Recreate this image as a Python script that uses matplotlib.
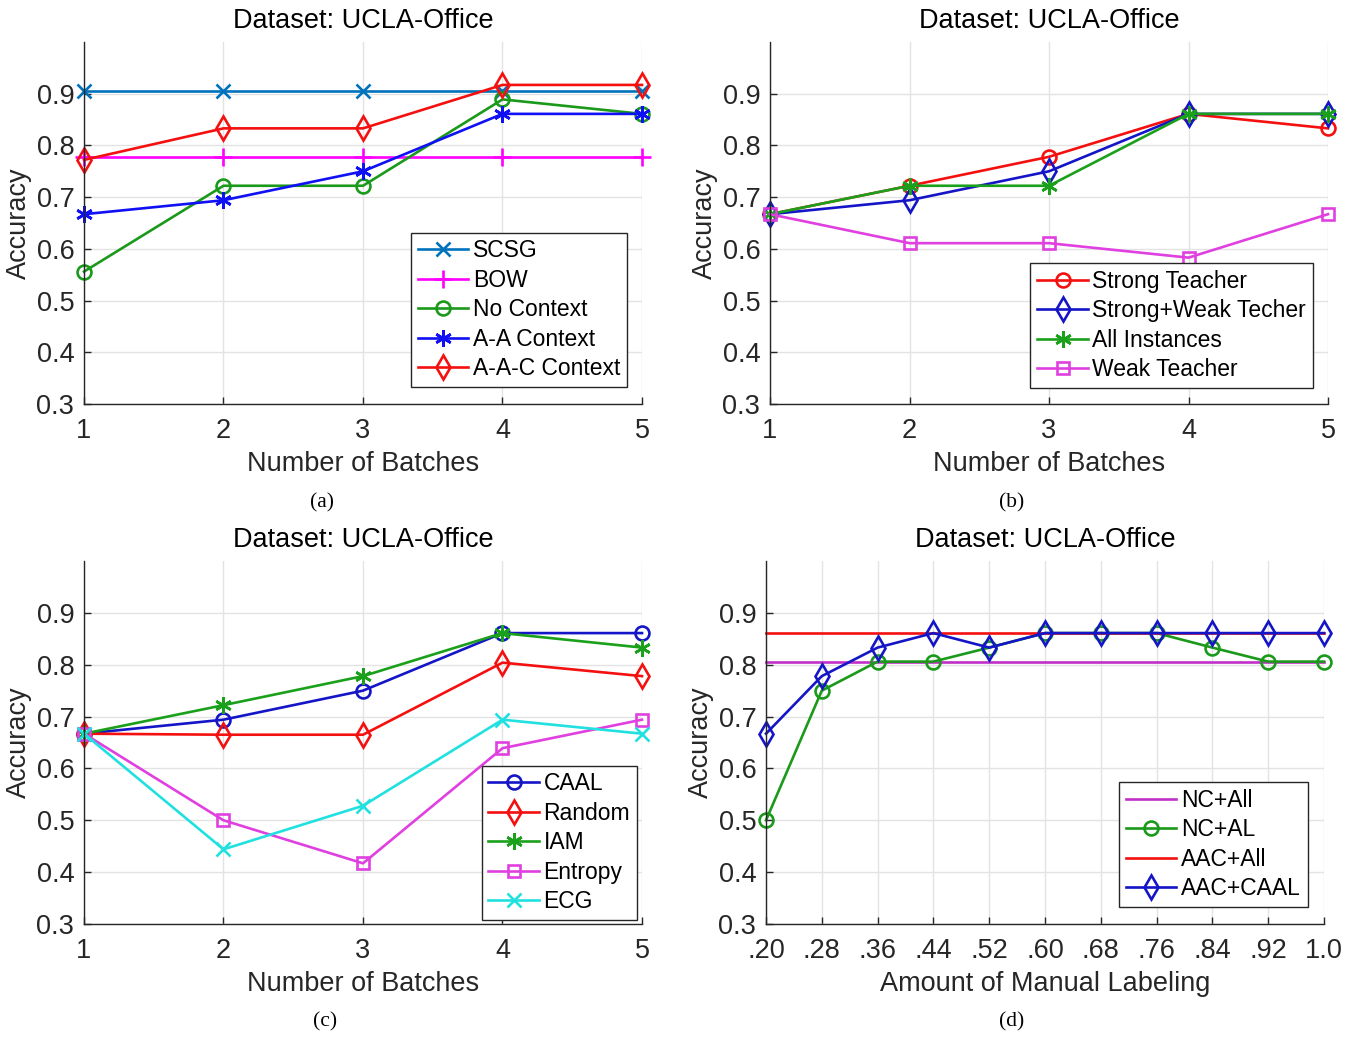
import matplotlib.pyplot as plt
from matplotlib.ticker import FixedLocator

plt.rcParams['font.family'] = ['Liberation Sans', 'DejaVu Sans']

# ---- data ----
batches = [1, 2, 3, 4, 5]

# (a)
scsg = [0.906, 0.906, 0.906, 0.906, 0.906]
bow = [0.778, 0.778, 0.778, 0.778, 0.778]
no_context = [0.556, 0.722, 0.722, 0.889, 0.861]
aa_context = [0.667, 0.694, 0.750, 0.861, 0.861]
aac_context = [0.772, 0.833, 0.833, 0.917, 0.917]

# (b)
strong_teacher = [0.667, 0.722, 0.778, 0.861, 0.833]
strong_weak = [0.667, 0.694, 0.750, 0.861, 0.861]
all_instances = [0.667, 0.722, 0.722, 0.861, 0.861]
weak_teacher = [0.667, 0.611, 0.611, 0.583, 0.667]

# (c)
caal = [0.667, 0.694, 0.750, 0.861, 0.861]
random_sel = [0.667, 0.665, 0.665, 0.804, 0.778]
iam = [0.667, 0.722, 0.778, 0.861, 0.833]
entropy = [0.667, 0.500, 0.417, 0.639, 0.694]
ecg = [0.667, 0.444, 0.528, 0.694, 0.667]

# (d)
manual = [0.20, 0.28, 0.36, 0.44, 0.52, 0.60, 0.68, 0.76, 0.84, 0.92, 1.00]
manual_labels = ['.20', '.28', '.36', '.44', '.52', '.60', '.68', '.76', '.84', '.92', '1.0']
nc_all = [0.806] * 11
nc_al = [0.500, 0.750, 0.806, 0.806, 0.833, 0.861, 0.861, 0.861, 0.833, 0.806, 0.806]
aac_all = [0.861] * 11
aac_caal = [0.667, 0.778, 0.833, 0.861, 0.833, 0.861, 0.861, 0.861, 0.861, 0.861, 0.861]

yticks = [0.3, 0.4, 0.5, 0.6, 0.7, 0.8, 0.9]

# ---- style ----
GRAY = '#262626'
FS = 19.5
LW = 1.9
MS = 10
AST = (6, 2, 0)

W, H = 1357, 1038
fig = plt.figure(figsize=(W / 100, H / 100), dpi=100)


def make_axes(left, top, width, height):
    ax = fig.add_axes([left / W, (H - top - height) / H, width / W, height / H])
    ax.set_ylim(0.3, 1.0)
    ax.set_yticks(yticks)
    ax.set_yticklabels(['%.1f' % v for v in yticks])
    ax.grid(True, color='#e3e3e3', linewidth=1.0)
    ax.set_axisbelow(True)
    for s in ['top', 'right']:
        ax.spines[s].set_visible(False)
    for s in ['left', 'bottom']:
        ax.spines[s].set_color(GRAY)
        ax.spines[s].set_linewidth(1.0)
    ax.tick_params(direction='in', length=5, width=1, colors=GRAY, labelsize=FS)
    ax.tick_params(axis='x', pad=10)
    ax.tick_params(axis='y', pad=7)
    ax.set_title('Dataset: UCLA-Office', fontsize=FS, color='black', pad=10)
    ax.set_ylabel('Accuracy', fontsize=FS, color=GRAY, labelpad=3)
    return ax


def add_legend(ax, x, y):
    leg = ax.legend(loc='lower right', bbox_to_anchor=(x, y), borderaxespad=0,
                    fontsize=16.5, fancybox=False, framealpha=1, edgecolor=GRAY,
                    handlelength=2.2, handletextpad=0.2, labelspacing=0.28,
                    borderpad=0.3)
    leg.get_frame().set_linewidth(1.0)
    return leg


def batch_axis(ax):
    ax.set_xlim(1, 5)
    ax.set_xticks(batches)
    ax.set_xlabel('Number of Batches', fontsize=FS, color=GRAY, labelpad=5)


def line(ax, x, y, **kw):
    ax.plot(x, y, lw=LW, mew=LW, clip_on=False, **kw)


# (a)
ax = make_axes(84, 42, 558, 362)
line(ax, batches, scsg, color='#0072BD', marker='x', ms=MS, label='SCSG')
line(ax, batches, bow, color='#FF00FF', marker='+', ms=MS + 3, label='BOW')
line(ax, batches, no_context, color='#1A991A', marker='o', ms=MS, mfc='none', label='No Context')
line(ax, batches, aa_context, color='#1010F5', marker=AST, ms=MS + 2, label='A-A Context')
line(ax, batches, aac_context, color='#F51010', marker='d', ms=MS + 2, mfc='none', label='A-A-C Context')
batch_axis(ax)
add_legend(ax, 0.973, 0.047)

# (b)
ax = make_axes(770, 42, 558, 362)
line(ax, batches, strong_teacher, color='#F51010', marker='o', ms=MS, mfc='none', label='Strong Teacher')
line(ax, batches, strong_weak, color='#1515C8', marker='d', ms=MS + 2, mfc='none', label='Strong+Weak Techer')
line(ax, batches, all_instances, color='#1AA01A', marker=AST, ms=MS + 2, label='All Instances')
line(ax, batches, weak_teacher, color='#E040E0', marker='s', ms=MS - 2, mfc='none', label='Weak Teacher')
batch_axis(ax)
add_legend(ax, 0.973, 0.044)

# (c)
ax = make_axes(84, 561, 558, 363)
line(ax, batches, caal, color='#1515C8', marker='o', ms=MS, mfc='none', label='CAAL')
line(ax, batches, random_sel, color='#F51010', marker='d', ms=MS + 2, mfc='none', label='Random')
line(ax, batches, iam, color='#1AA01A', marker=AST, ms=MS + 2, label='IAM')
line(ax, batches, entropy, color='#E040E0', marker='s', ms=MS - 2, mfc='none', label='Entropy')
line(ax, batches, ecg, color='#20E0E0', marker='x', ms=MS, label='ECG')
batch_axis(ax)
add_legend(ax, 0.991, 0.011)

# (d)
ax = make_axes(766, 561, 558, 363)
line(ax, manual, nc_all, color='#C030C8', label='NC+All')
line(ax, manual, nc_al, color='#1A991A', marker='o', ms=MS, mfc='none', label='NC+AL')
line(ax, manual, aac_all, color='#F51010', label='AAC+All')
line(ax, manual, aac_caal, color='#1515C8', marker='d', ms=MS + 2, mfc='none', label='AAC+CAAL')
ax.set_xlim(0.2, 1.0)
ax.xaxis.set_major_locator(FixedLocator(manual))
ax.set_xticklabels(manual_labels)
ax.set_xlabel('Amount of Manual Labeling', fontsize=FS, color=GRAY, labelpad=5)
add_legend(ax, 0.971, 0.047)

# captions
for x, y, t in [(322, 503, '(a)'), (1012, 503, '(b)'), (325, 1022, '(c)'), (1012, 1022, '(d)')]:
    fig.text(x / W, 1 - y / H, t, ha='center', va='center', fontsize=15.5,
             family='Liberation Serif', color='black')

fig.savefig('out.png', dpi=100)
